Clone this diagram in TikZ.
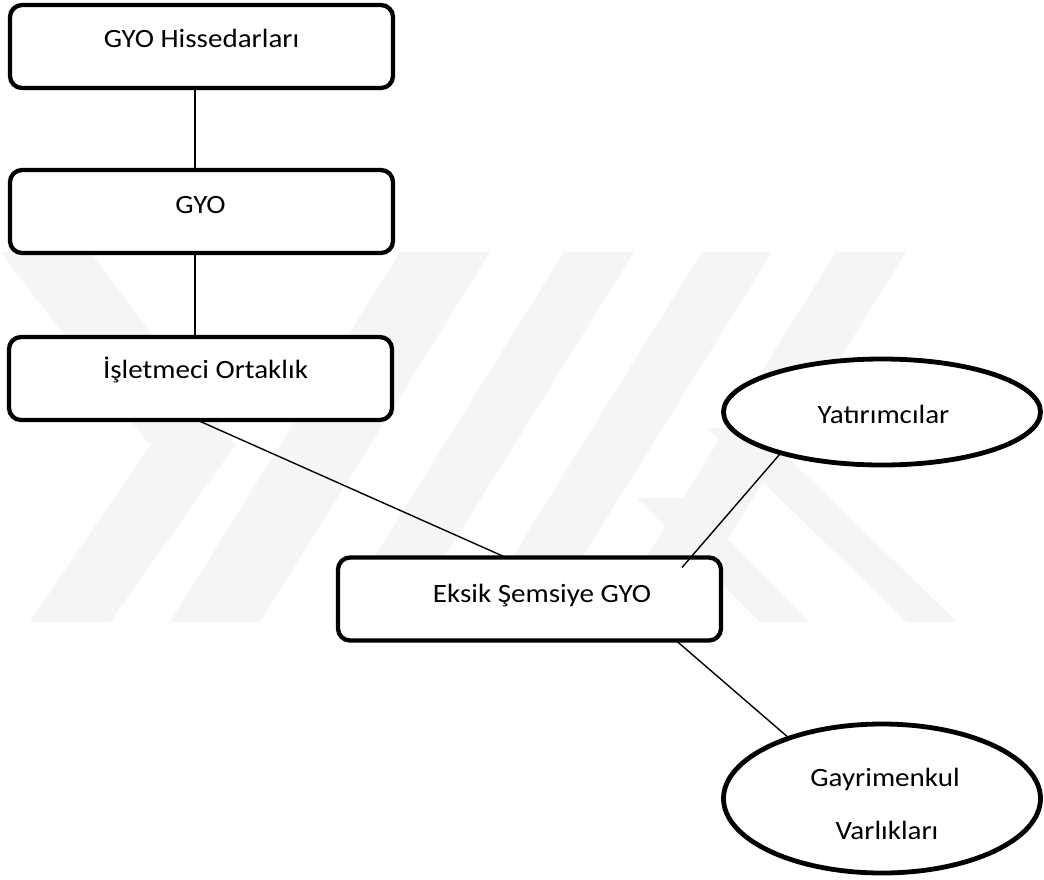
\documentclass[tikz,border=0pt]{standalone}
\usepackage{fontspec}
\setmainfont{Carlito}[FakeStretch=1.1]
\usetikzlibrary{shapes.geometric}
\begin{document}
\begin{tikzpicture}[x=1pt,y=-1pt,
  box/.style={draw, line width=4.3pt, rounded corners=12pt, minimum width=383pt, minimum height=83pt, inner sep=0pt, outer sep=0pt, fill=white},
  oval/.style={draw, ellipse, line width=4.8pt, inner sep=0pt, outer sep=0pt, fill=white},
  lbl/.style={anchor=base, inner sep=0pt, font=\fontsize{26.4}{30}\selectfont},
  link/.style={line width=1.4pt},
  wm/.style={fill=black!4, draw=none}]
\useasboundingbox (0,0) rectangle (1044,879);
\fill[white] (0,0) rectangle (1044,879);
% faint background watermark
\fill[wm] (0,252) -- (90,252) -- (235,445) -- (110,622) -- (30,622) -- (150,445) -- cycle;
\fill[wm] (400,252) -- (490,252) -- (260,622) -- (170,622) -- cycle;
\fill[wm] (564,252) -- (634,252) -- (404,622) -- (334,622) -- cycle;
\fill[wm] (702,252) -- (772,252) -- (542,622) -- (472,622) -- cycle;
\fill[wm] (836,252) -- (906,252) -- (676,622) -- (606,622) -- cycle;
\fill[wm] (707,428) -- (757,428) -- (957,622) -- (907,622) -- cycle;
\fill[wm] (637,498) -- (687,498) -- (810,622) -- (760,622) -- cycle;
% shapes
\node[box] (b1) at (201.5,46.5) {};
\node[box] (b2) at (201.5,211.5) {};
\node[box] (b3) at (200.5,378.5) {};
\node[box] (b4) at (529.5,599) {};
\node[oval, minimum width=317pt, minimum height=106pt] (yat) at (882,412) {};
\node[oval, minimum width=317pt, minimum height=149pt] (gv) at (882,798.5) {};
% texts
\node[lbl] (t1) at (201.5,47.3) {GYO Hissedarları};
\node[lbl] (t2) at (200.5,213) {GYO};
\node[lbl] (t3) at (205.5,378) {İşletmeci Ortaklık};
\node[lbl] (t4) at (542,602) {Eksik Şemsiye GYO};
\node[lbl] (t5) at (883.5,423) {Yatırımcılar};
\node[lbl] (t6) at (885,786) {Gayrimenkul};
\node[lbl] (t7) at (887,839) {Varlıkları};
% connectors
\coordinate (yin) at ([xshift=-39pt,yshift=-10pt]b4.north east);
\draw[link] ([xshift=-6.5pt]b1.south) -- ([xshift=-6.5pt]b2.north);
\draw[link] ([xshift=-6.5pt]b2.south) -- ([xshift=-5.5pt]b3.north);
\draw[link] ([xshift=-3.5pt]b3.south) -- ([xshift=-23.5pt]b4.north);
\draw[link] (yat.202) -- (yin);
\draw[link] ([xshift=-45pt]b4.south east) -- (gv.147);
\end{tikzpicture}
\end{document}
